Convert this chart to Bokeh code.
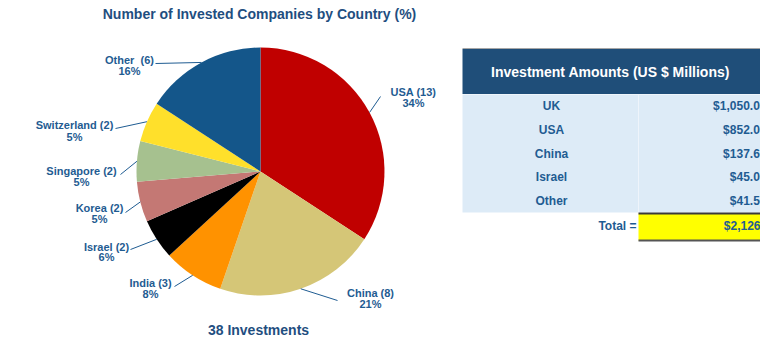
import math
from bokeh.plotting import figure
from bokeh.models import Range1d
from bokeh.embed import file_html
from bokeh.resources import INLINE
from bokeh.core.properties import value

# ---------------- data ----------------
countries = ["USA", "China", "India", "Israel", "Korea", "Singapore", "Switzerland", "Other\u00a0"]
counts = [13, 8, 3, 2, 2, 2, 2, 6]
pct_labels = ["34%", "21%", "8%", "6%", "5%", "5%", "5%", "16%"]

table_countries = ["UK", "USA", "China", "Israel", "Other"]
table_amounts = [1050.0, 852.0, 137.6, 45.0, 41.5]

# ---------------- styles / layout ----------------
slice_colors = ["#C00000", "#D5C677", "#FF9200", "#000000", "#C47874",
                "#A6C18F", "#FFE02B", "#14568A"]
TXT = "#1F5C92"
TITLE = "#1F4E80"
FONT = value("Liberation Sans")
W, H = 760, 347


def Y(py):
    return H - py


p = figure(width=W, height=H, x_range=Range1d(0, W), y_range=Range1d(0, H),
           output_backend="svg", toolbar_location=None, min_border=0)
p.axis.visible = False
p.grid.visible = False
p.outline_line_color = None
p.background_fill_color = "white"

# ---------------- pie ----------------
cx, cy, r = 260, Y(171), 124
total = sum(counts)
starts, ends, mids = [], [], []
cum = 0
for c in counts:
    a0 = math.pi / 2 - 2 * math.pi * cum / total
    cum += c
    a1 = math.pi / 2 - 2 * math.pi * cum / total
    starts.append(a0)
    ends.append(a1)
    mids.append((a0 + a1) / 2)

p.wedge(x=[cx] * len(counts), y=[cy] * len(counts), radius=r,
        start_angle=starts, end_angle=ends, direction="clock",
        fill_color=slice_colors, line_color=None)

# label layout: (line end x, line end y, text center x, line1 y, line2 y)
label_layout = [
    (380, 96, 413, 91, 102),
    (337, 300, 370, 292, 303),
    (174, 286, 150, 282, 293),
    (130, 249, 106, 246, 256),
    (125, 212, 99, 207, 218),
    (120, 174, 81, 170, 181),
    (115, 128, 74, 124, 136),
    (155, 63, 129, 59, 70),
]
for i, (ex, ey, tx, y1, y2) in enumerate(label_layout):
    sx = cx + r * math.cos(mids[i])
    sy = cy + r * math.sin(mids[i])
    p.line([sx, ex], [sy, Y(ey)], line_color=TXT, line_width=1)
    p.text([tx], [Y(y1)], text=[f"{countries[i]} ({counts[i]})"],
           text_align="center", text_baseline="middle", text_font=FONT,
           text_font_style="bold", text_font_size="11px", text_color=TXT)
    p.text([tx], [Y(y2)], text=[pct_labels[i]],
           text_align="center", text_baseline="middle", text_font=FONT,
           text_font_style="bold", text_font_size="11px", text_color=TXT)

p.text([259], [Y(13)], text=["Number of Invested Companies by Country (%)"],
       text_align="center", text_baseline="middle", text_font=FONT,
       text_font_style="bold", text_font_size="14px", text_color=TITLE)
p.text([258], [Y(329)], text=[f"{total} Investments"],
       text_align="center", text_baseline="middle", text_font=FONT,
       text_font_style="bold", text_font_size="14px", text_color=TITLE)

# ---------------- table ----------------
tx0, tx1 = 462, 800
p.line([tx0, tx1], [Y(48), Y(48)], line_color="#A6A6A6", line_width=1)
p.quad(left=[tx0], right=[tx1], top=[Y(48.5)], bottom=[Y(93.5)],
       fill_color="#1F4E79", line_color=None)
p.text([610], [Y(71)], text=["Investment Amounts (US $ Millions)"],
       text_align="center", text_baseline="middle", text_font=FONT,
       text_font_style="bold", text_font_size="14px", text_color="white")

row_top, row_h = 94, 23.6
n = len(table_countries)
p.quad(left=[tx0], right=[tx1], top=[Y(row_top)], bottom=[Y(row_top + n * row_h)],
       fill_color="#DDEBF7", line_color=None)
p.line([638, 638], [Y(row_top), Y(row_top + n * row_h)], line_color="#EEF4FB", line_width=1)
row_y = [Y(row_top + (i + 0.5) * row_h) for i in range(n)]
p.text([551] * n, row_y, text=table_countries, text_align="center",
       text_baseline="middle", text_font=FONT, text_font_style="bold",
       text_font_size="12px", text_color=TXT)
p.text([766] * n, row_y, text=[f"${v:,.2f}" for v in table_amounts],
       text_align="right", text_baseline="middle", text_font=FONT,
       text_font_style="bold", text_font_size="12px", text_color=TXT)

# total row
p.quad(left=[638], right=[tx1], top=[Y(213)], bottom=[Y(240)],
       fill_color="#FFFF00", line_color=None)
p.line([638, tx1], [Y(213), Y(213)], line_color="#3A3A3A", line_width=2)
p.line([638, tx1], [Y(240), Y(240)], line_color="#555555", line_width=2)
p.text([636], [Y(225)], text=["Total ="], text_align="right",
       text_baseline="middle", text_font=FONT, text_font_style="bold",
       text_font_size="12px", text_color=TXT)
p.text([770], [Y(225)], text=[f"${sum(table_amounts):,.1f}"], text_align="right",
       text_baseline="middle", text_font=FONT, text_font_style="bold",
       text_font_size="12px", text_color=TXT)

open("out.html", "w").write(file_html(p, INLINE))
